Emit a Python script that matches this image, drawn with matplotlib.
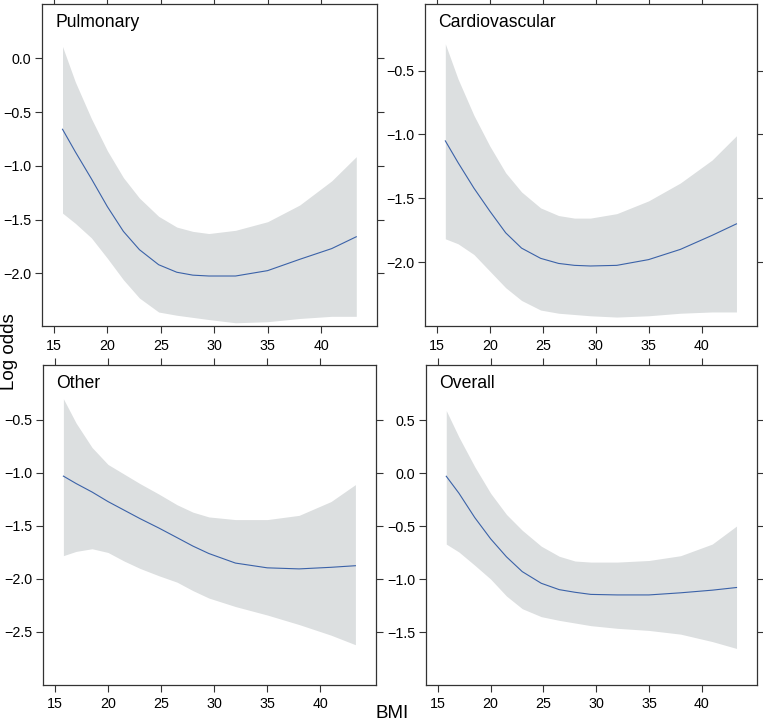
import numpy as np
import matplotlib.pyplot as plt

plt.rcParams['font.family'] = ['Liberation Sans', 'DejaVu Sans']

bmi = [15.8, 17, 18.5, 20, 21.5, 23, 24.8, 26.5, 28, 29.5, 32, 35, 38, 41, 43.3]

pulm_fit = [-0.66, -0.87, -1.12, -1.38, -1.61, -1.78, -1.92, -1.99, -2.017, -2.025, -2.025, -1.975, -1.87, -1.77, -1.66]
pulm_hi = [0.11, -0.22, -0.56, -0.86, -1.11, -1.30, -1.47, -1.57, -1.61, -1.63, -1.60, -1.52, -1.365, -1.14, -0.915]
pulm_lo = [-1.44, -1.535, -1.67, -1.86, -2.06, -2.23, -2.36, -2.39, -2.41, -2.43, -2.46, -2.45, -2.42, -2.40, -2.40]

card_fit = [-1.05, -1.22, -1.42, -1.60, -1.77, -1.89, -1.97, -2.01, -2.025, -2.03, -2.025, -1.98, -1.90, -1.79, -1.70]
card_hi = [-0.29, -0.565, -0.85, -1.09, -1.30, -1.45, -1.575, -1.635, -1.655, -1.655, -1.62, -1.52, -1.38, -1.20, -1.01]
card_lo = [-1.817, -1.856, -1.94, -2.07, -2.20, -2.30, -2.375, -2.40, -2.41, -2.42, -2.43, -2.42, -2.40, -2.39, -2.39]

other_fit = [-1.03, -1.10, -1.18, -1.27, -1.35, -1.43, -1.52, -1.61, -1.69, -1.76, -1.85, -1.895, -1.905, -1.89, -1.875]
other_hi = [-0.30, -0.53, -0.76, -0.92, -1.01, -1.10, -1.20, -1.30, -1.37, -1.415, -1.44, -1.44, -1.40, -1.27, -1.11]
other_lo = [-1.78, -1.74, -1.715, -1.75, -1.83, -1.90, -1.97, -2.03, -2.11, -2.18, -2.26, -2.34, -2.43, -2.53, -2.62]

over_fit = [-0.03, -0.19, -0.42, -0.62, -0.79, -0.93, -1.04, -1.10, -1.125, -1.145, -1.15, -1.15, -1.13, -1.105, -1.08]
over_hi = [0.59, 0.34, 0.06, -0.19, -0.39, -0.54, -0.69, -0.785, -0.83, -0.84, -0.84, -0.825, -0.78, -0.67, -0.50]
over_lo = [-0.67, -0.745, -0.87, -1.00, -1.16, -1.28, -1.355, -1.39, -1.415, -1.44, -1.465, -1.485, -1.52, -1.59, -1.655]

panels = [
    ("Pulmonary", pulm_fit, pulm_hi, pulm_lo, (-2.49, 0.505), [0.0, -0.5, -1.0, -1.5, -2.0]),
    ("Cardiovascular", card_fit, card_hi, card_lo, (-2.50, 0.022), [-0.5, -1.0, -1.5, -2.0]),
    ("Other", other_fit, other_hi, other_lo, (-3.0, 0.018), [-0.5, -1.0, -1.5, -2.0, -2.5]),
    ("Overall", over_fit, over_hi, over_lo, (-2.0, 1.02), [0.5, 0.0, -0.5, -1.0, -1.5]),
]

W, H = 763, 724
boxes = [(42, 4, 377, 326), (425, 4, 757, 326), (43, 365, 376, 685), (426, 365, 757, 685)]

fig = plt.figure(figsize=(W / 100, H / 100), dpi=100)

for (name, fit, hi, lo, ylim, yt), (x0, y0, x1, y1) in zip(panels, boxes):
    ax = fig.add_axes([x0 / W, 1 - y1 / H, (x1 - x0) / W, (y1 - y0) / H])
    ax.fill_between(bmi, lo, hi, color="#dcdfe0", lw=0)
    ax.plot(bmi, fit, color="#3b62a8", lw=0.8)
    ax.set_xlim(13.88, 45.24)
    ax.set_ylim(*ylim)
    ax.set_xticks([15, 20, 25, 30, 35, 40])
    ax.set_yticks(yt)
    ax.set_yticklabels([f"{v:.1f}".replace("-", "\u2212") for v in yt])
    ax.tick_params(direction="out", length=5, width=0.8, color="#333333",
                   labelsize=10.3, top=True, right=True)
    ax.tick_params(axis="x", pad=4)
    ax.tick_params(axis="y", pad=2.5)
    for s in ax.spines.values():
        s.set_color("#333333")
        s.set_linewidth(0.9)
    ax.text(0.04, 0.97, name, transform=ax.transAxes, ha="left", va="top", fontsize=12.7)

fig.text(9 / W, 1 - 352 / H, "Log odds", rotation=90, ha="center", va="center", fontsize=13.5)
fig.text(392 / W, 1 - 714 / H, "BMI", ha="center", va="center", fontsize=13.5)

fig.savefig("out.png", dpi=100)
